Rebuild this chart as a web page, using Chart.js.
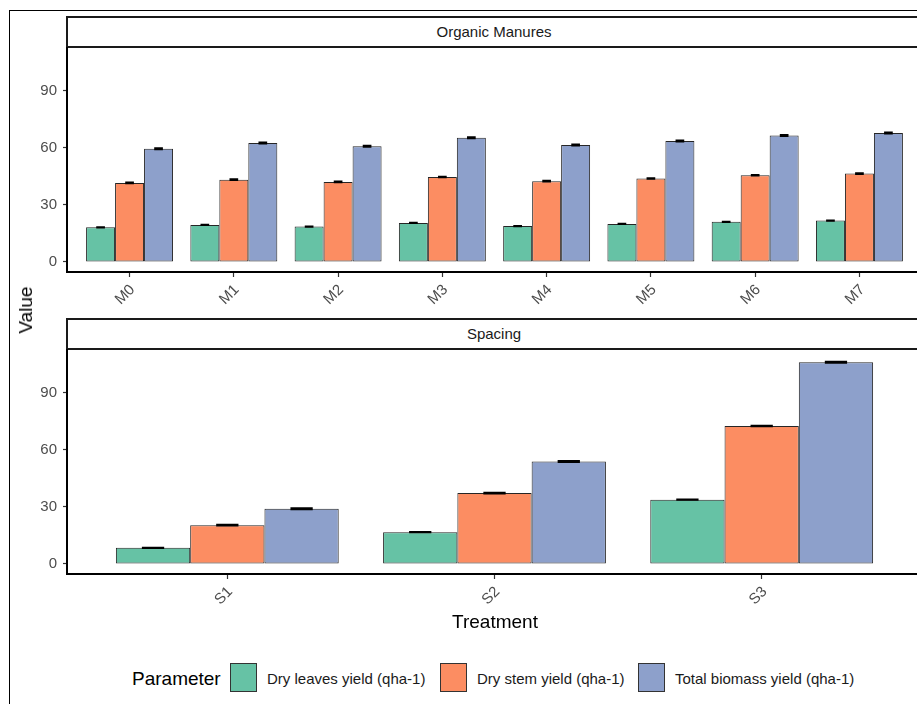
<!DOCTYPE html>
<html>
<head>
<meta charset="utf-8">
<script src="https://cdn.jsdelivr.net/npm/chart.js@4.4.1/dist/chart.umd.min.js"></script>
<style>
  html, body { margin:0; padding:0; width:917px; height:704px; overflow:hidden; background:#fff;
    font-family:"Liberation Sans", Arial, sans-serif; }
  .abs { position:absolute; }
  #frame { left:9px; top:10px; width:1000px; height:1000px; border:1px solid #000; box-sizing:border-box; }
  .strip { left:66px; width:856px; height:32px; border:2px solid #1a1a1a; box-sizing:border-box;
    text-align:center; font-size:15px; color:#1a1a1a; line-height:28px; background:#fff; }
  .axtitle { font-size:19px; color:#000; white-space:nowrap; line-height:22px; }
  .legbox { width:27px; height:29px; border:1px solid #333; box-sizing:border-box; top:663px; }
  .legtxt { font-size:15px; color:#1a1a1a; line-height:18px; top:670px; white-space:nowrap; }
</style>
</head>
<body>
<div id="frame" class="abs"></div>
<div class="abs strip" style="top:16px;">Organic Manures</div>
<div class="abs strip" style="top:318px;">Spacing</div>
<canvas id="c1" class="abs" width="925" height="289" style="left:0;top:28px;"></canvas>
<canvas id="c2" class="abs" width="925" height="284" style="left:0;top:330px;"></canvas>
<div class="abs axtitle" style="left:26px;top:310px;transform:translate(-50%,-50%) rotate(-90deg);">Value</div>
<div class="abs axtitle" style="left:495px;top:622px;transform:translate(-50%,-50%);">Treatment</div>
<div id="legend"></div>
<script>
// ---- data ----
const omCategories = ['M0','M1','M2','M3','M4','M5','M6','M7'];
const spCategories = ['S1','S2','S3'];
const seriesNames = ['Dry leaves yield (qha-1)','Dry stem yield (qha-1)','Total biomass yield (qha-1)'];
const seriesColors = ['#66C2A5','#FC8D62','#8DA0CB'];

const omLeaves = [18.2, 19.5, 18.6, 20.5, 18.9, 20.0, 21.1, 21.8];
const omStem   = [41.6, 43.3, 42.1, 44.7, 42.5, 43.9, 45.6, 46.5];
const omTotal  = [59.6, 62.6, 60.9, 65.4, 61.6, 63.7, 66.5, 67.9];
const omLeavesErr = [0.2, 0.2, 0.2, 0.2, 0.2, 0.2, 0.2, 0.2];
const omStemErr   = [0.3, 0.3, 0.3, 0.3, 0.3, 0.3, 0.3, 0.3];
const omTotalErr  = [0.4, 0.4, 0.4, 0.4, 0.4, 0.4, 0.4, 0.4];

const spLeaves = [8.5, 16.7, 33.8];
const spStem   = [20.4, 37.3, 72.6];
const spTotal  = [29.1, 53.9, 106.2];
const spLeavesErr = [0.2, 0.2, 0.2];
const spStemErr   = [0.3, 0.3, 0.3];
const spTotalErr  = [0.4, 0.4, 0.4];

const yTickValues = [0, 30, 60, 90];
const yMin = -5.3, yMax = 112.6;
const legendTitle = 'Parameter';

// ---- legend (HTML) ----
const legendPos = [{box:230, txt:267}, {box:440, txt:477}, {box:638, txt:675}];
const leg = document.getElementById('legend');
const t = document.createElement('div');
t.className = 'abs'; t.textContent = legendTitle;
t.style.cssText = 'left:132px;top:668px;font-size:19px;line-height:22px;color:#000;';
leg.appendChild(t);
seriesNames.forEach((n, k) => {
  const b = document.createElement('div');
  b.className = 'abs legbox'; b.style.left = legendPos[k].box + 'px'; b.style.background = seriesColors[k];
  leg.appendChild(b);
  const s = document.createElement('div');
  s.className = 'abs legtxt'; s.style.left = legendPos[k].txt + 'px'; s.textContent = n;
  leg.appendChild(s);
});

// ---- charts ----
Chart.defaults.font.family = '"Liberation Sans", Arial, sans-serif';

const errorBars = {
  id: 'errorBars',
  afterDatasetsDraw(chart) {
    const ctx = chart.ctx, ys = chart.scales.y;
    ctx.save();
    ctx.strokeStyle = '#000';
    ctx.lineWidth = 1.5;
    chart.data.datasets.forEach((ds, di) => {
      const meta = chart.getDatasetMeta(di);
      meta.data.forEach((bar, i) => {
        const v = ds.data[i].y, e = ds.errors[i];
        const yT = ys.getPixelForValue(v + e), yB = ys.getPixelForValue(v - e);
        const hw = bar.width * 0.15;
        ctx.beginPath();
        ctx.moveTo(bar.x, yT); ctx.lineTo(bar.x, yB);
        ctx.moveTo(bar.x - hw, yT); ctx.lineTo(bar.x + hw, yT);
        ctx.moveTo(bar.x - hw, yB); ctx.lineTo(bar.x + hw, yB);
        ctx.stroke();
      });
    });
    ctx.restore();
  }
};

function makeChart(id, cats, series, errs, xAxisHeight) {
  const datasets = series.map((vals, k) => ({
    label: seriesNames[k],
    data: vals.map((v, i) => ({x: i, y: v})),
    errors: errs[k],
    backgroundColor: seriesColors[k],
    borderColor: '#262626',
    borderWidth: 1,
    borderSkipped: false,
    categoryPercentage: 0.834,
    barPercentage: 1
  }));
  return new Chart(document.getElementById(id), {
    type: 'bar',
    data: { datasets },
    options: {
      responsive: false,
      animation: false,
      devicePixelRatio: 1,
      layout: { padding: { top: 20, right: 3, left: 0, bottom: 0 } },
      plugins: { legend: { display: false }, tooltip: { enabled: false } },
      scales: {
        x: {
          type: 'linear',
          min: -0.6, max: cats.length - 1 + 0.6,
          offset: false,
          afterBuildTicks: s => { s.ticks = cats.map((c, i) => ({ value: i })); },
          afterFit: s => { s.height = xAxisHeight; },
          grid: { display: true, drawOnChartArea: false, drawTicks: true, tickLength: 5,
                  tickColor: '#333', tickWidth: 1.2, offset: false },
          border: { display: true, color: '#000', width: 2 },
          ticks: { autoSkip: false, maxRotation: 45, minRotation: 45, padding: 4, labelOffset: 3,
                   color: '#4d4d4d', font: { size: 15 }, callback: v => cats[v] }
        },
        y: {
          min: yMin, max: yMax,
          afterBuildTicks: s => { s.ticks = yTickValues.map(v => ({ value: v })); },
          afterFit: s => { s.width = 67; },
          grid: { display: true, drawOnChartArea: false, drawTicks: true, tickLength: 4,
                  tickColor: '#333', tickWidth: 1.2 },
          border: { display: true, color: '#000', width: 2 },
          ticks: { padding: 6, color: '#4d4d4d', font: { size: 15 } }
        }
      }
    },
    plugins: [errorBars]
  });
}

makeChart('c1', omCategories, [omLeaves, omStem, omTotal], [omLeavesErr, omStemErr, omTotalErr], 45);
makeChart('c2', spCategories, [spLeaves, spStem, spTotal], [spLeavesErr, spStemErr, spTotalErr], 40);
</script>
</body>
</html>
